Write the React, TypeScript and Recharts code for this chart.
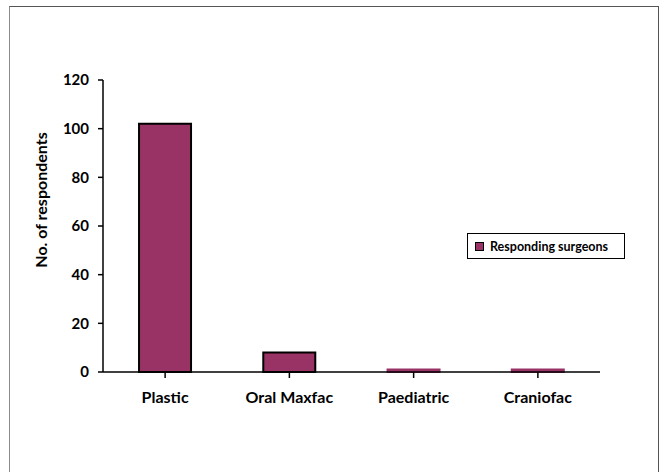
import { BarChart, Bar, XAxis, YAxis, Cell } from 'recharts';

const categories = ['Plastic', 'Oral Maxfac', 'Paediatric', 'Craniofac'];
const surgeons = [102, 8, 1, 1];
const yTicks = [0, 20, 40, 60, 80, 100, 120];

const data = categories.map((name, i) => ({ name, surgeons: surgeons[i] }));

const FONT = 'Lato, "Open Sans", sans-serif';
const PLUM = '#993366';

function LegendBox() {
  return (
    <div
      style={{
        position: 'absolute',
        left: 467,
        top: 233,
        width: 149,
        height: 24,
        border: '1px solid #000',
        display: 'flex',
        alignItems: 'center',
        paddingLeft: 7,
        fontFamily: FONT,
        fontWeight: 700,
        fontSize: 12.5,
        color: '#000',
        background: '#fff',
        boxSizing: 'content-box',
      }}
    >
      <span
        style={{
          width: 7,
          height: 7,
          background: PLUM,
          border: '1px solid #000',
          display: 'inline-block',
          marginRight: 6,
        }}
      />
      Responding surgeons
    </div>
  );
}

export default function App() {
  return (
    <div style={{ position: 'fixed', left: 0, top: 0, width: 660, height: 472, background: '#fff', overflow: 'hidden' }}>
      <div
        style={{
          position: 'absolute',
          left: 9,
          top: 6,
          width: 648,
          height: 520,
          borderLeft: '1px solid #8c8c8c',
          borderTop: '1px solid #555',
          borderRight: '1px solid #555',
        }}
      />
      <BarChart
        width={660}
        height={472}
        data={data}
        margin={{ top: 80, right: 60, left: 43, bottom: 70 }}
        barCategoryGap="29%"
        style={{ position: 'absolute', left: 0, top: 0 }}
      >
        <XAxis
          dataKey="name"
          height={30}
          axisLine={{ stroke: '#000', strokeWidth: 1.5 }}
          tickLine={{ stroke: '#000', strokeWidth: 1.5 }}
          tickSize={6}
          interval={0}
          tick={{ fontSize: 16, fontWeight: 700, fill: '#000', fontFamily: FONT, dy: 12 }}
        />
        <YAxis
          width={60}
          domain={[0, 120]}
          ticks={yTicks}
          axisLine={{ stroke: '#000', strokeWidth: 1.5 }}
          tickLine={{ stroke: '#000', strokeWidth: 1.5 }}
          tickSize={5}
          tickMargin={9}
          tick={{ fontSize: 15, fontWeight: 700, fill: '#000', fontFamily: FONT }}
          label={{
            value: 'No. of respondents',
            angle: -90,
            position: 'center',
            dx: -32,
            dy: -26,
            style: { fontSize: 16, fontWeight: 700, fill: '#000', fontFamily: FONT, textAnchor: 'middle' },
          }}
        />
        <Bar dataKey="surgeons" name="Responding surgeons" fill={PLUM} stroke="#000" strokeWidth={2} isAnimationActive={false}>
          {data.map((d, i) => (
            <Cell key={i} fill={PLUM} stroke={d.surgeons <= 1 ? PLUM : '#000'} />
          ))}
        </Bar>
      </BarChart>
      <LegendBox />
    </div>
  );
}
